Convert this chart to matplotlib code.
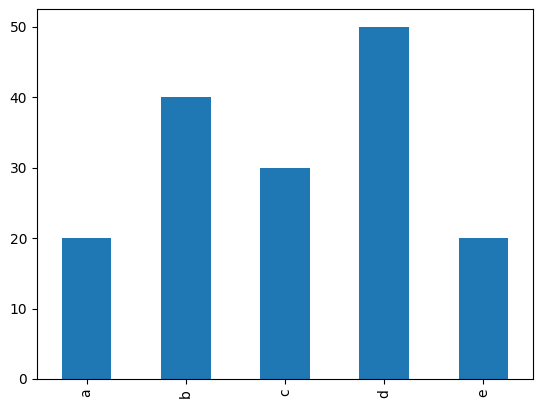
import matplotlib
matplotlib.use("Agg")
import matplotlib.pyplot as plt
import pandas as pd

categories = ["a", "b", "c", "d", "e"]
values = [20, 40, 30, 50, 20]

series = pd.Series(values, index=categories)

fig = plt.figure(figsize=(5.43, 4.08), dpi=100)
ax = fig.add_axes([37 / 543, 29 / 408, 496 / 543, 369.6 / 408])
series.plot(kind="bar", ax=ax, color="#1f77b4")

fig.savefig("out.png", dpi=100)
